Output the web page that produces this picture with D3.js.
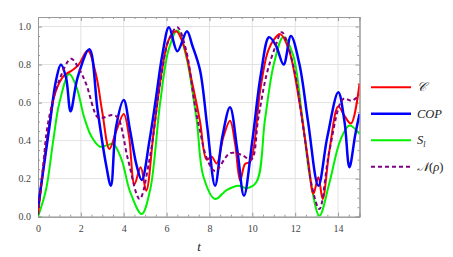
<!DOCTYPE html>
<html>
<head>
<meta charset="utf-8">
<script src="https://cdn.jsdelivr.net/npm/d3@7"></script>
<style>
  html, body { margin: 0; padding: 0; background: #fff; }
  svg { display: block; }
</style>
</head>
<body>
<div id="chart"></div>
<script>
// values, as [t, value] knots
var seriesC = [
  [0, 0.014], [0.25, 0.25], [0.56, 0.51], [0.8, 0.65], [1.2, 0.74], [1.6, 0.77], [1.9, 0.8],
  [2.32, 0.874], [2.7, 0.75], [3.0, 0.55], [3.33, 0.356], [3.65, 0.45], [4.0, 0.54],
  [4.25, 0.42], [4.5, 0.17], [4.79, 0.26], [5.05, 0.137], [5.4, 0.45], [5.8, 0.78],
  [6.1, 0.93], [6.45, 0.975], [6.8, 0.9], [7.2, 0.7], [7.56, 0.5], [7.87, 0.3], [8.1, 0.315],
  [8.34, 0.28], [8.65, 0.42], [8.96, 0.505], [9.2, 0.38], [9.43, 0.19], [9.66, 0.277],
  [9.9, 0.29], [10.36, 0.66], [10.7, 0.86], [11.0, 0.93], [11.3, 0.96], [11.7, 0.88],
  [12.2, 0.6], [12.6, 0.3], [12.85, 0.12], [13.08, 0.207], [13.28, 0.093], [13.6, 0.35],
  [14.01, 0.58], [14.3, 0.53], [14.6, 0.49], [15, 0.7]
];
var seriesCOP = [
  [0, 0.05], [0.53, 0.47], [0.84, 0.716], [1.07, 0.8], [1.31, 0.73], [1.52, 0.554],
  [1.85, 0.733], [2.4, 0.88], [2.78, 0.56], [3.17, 0.277], [3.4, 0.163], [3.64, 0.47],
  [4.0, 0.614], [4.3, 0.45], [4.6, 0.27], [4.84, 0.193], [5.2, 0.4], [5.5, 0.62],
  [5.8, 0.85], [6.11, 0.996], [6.5, 0.87], [6.95, 0.975], [7.2, 0.9], [7.56, 0.77],
  [7.9, 0.47], [8.26, 0.163], [8.6, 0.42], [8.96, 0.575], [9.3, 0.35], [9.61, 0.11],
  [10.0, 0.4], [10.4, 0.75], [10.78, 0.944], [11.1, 0.9], [11.46, 0.8], [11.8, 0.95],
  [12.2, 0.8], [12.6, 0.5], [13.08, 0.163], [13.5, 0.42], [14.01, 0.654], [14.3, 0.5],
  [14.53, 0.26], [14.8, 0.43], [15, 0.54]
];
var seriesSl = [
  [0, 0], [0.37, 0.14], [0.71, 0.4], [1.0, 0.6], [1.46, 0.75], [1.8, 0.68], [2.16, 0.52],
  [2.5, 0.42], [2.89, 0.368], [3.2, 0.375], [3.51, 0.383], [3.9, 0.3], [4.3, 0.13],
  [4.84, 0.014], [5.23, 0.14], [5.7, 0.6], [6.1, 0.88], [6.5, 0.979], [6.9, 0.85],
  [7.4, 0.51], [7.72, 0.21], [8.26, 0.093], [8.8, 0.14], [9.35, 0.163], [9.74, 0.15],
  [10.2, 0.184], [10.59, 0.51], [11.0, 0.8], [11.45, 0.945], [11.9, 0.85], [12.3, 0.55],
  [12.7, 0.2], [13.13, 0.005], [13.6, 0.18], [14.1, 0.4], [14.53, 0.48], [15, 0.435]
];
var seriesN = [
  [0, 0.01], [0.25, 0.28], [0.48, 0.5], [1.0, 0.72], [1.54, 0.83], [1.9, 0.78], [2.24, 0.7],
  [2.78, 0.523], [3.0, 0.52], [3.48, 0.535], [3.73, 0.52], [4.2, 0.3], [4.74, 0.093],
  [5.2, 0.3], [5.7, 0.7], [6.1, 0.93], [6.5, 0.996], [6.9, 0.88], [7.3, 0.6], [7.56, 0.45],
  [7.9, 0.3], [8.26, 0.24], [8.96, 0.334], [9.5, 0.325], [9.95, 0.3], [10.28, 0.52],
  [10.67, 0.75], [11.06, 0.89], [11.37, 0.97], [11.9, 0.8], [12.4, 0.45], [12.8, 0.15],
  [13.13, 0.04], [13.6, 0.35], [14.25, 0.62], [14.64, 0.61], [15, 0.64]
];

var xTicks = [0, 2, 4, 6, 8, 10, 12, 14];
var yTicks = [0, 0.2, 0.4, 0.6, 0.8, 1.0];
var legendNames = ["C", "COP", "S", "N"];

var serif = "'Liberation Serif', 'DejaVu Serif', serif";
var width = 453, height = 257;
var plot = {left: 38, right: 359.5, top: 17, bottom: 216.7};

var x = d3.scaleLinear().domain([0, 15]).range([plot.left, plot.right]);
var y = d3.scaleLinear().domain([0, 1.05]).range([plot.bottom, plot.top]);

var svg = d3.select("#chart").append("svg")
  .attr("width", width)
  .attr("height", height)
  .style("font-family", serif);

// grid lines
svg.append("g").selectAll("line")
  .data(xTicks.slice(1))
  .enter().append("line")
  .attr("x1", d => x(d)).attr("x2", d => x(d))
  .attr("y1", plot.top).attr("y2", plot.bottom)
  .attr("stroke", "#e2e2e2").attr("stroke-width", 1);
svg.append("g").selectAll("line")
  .data(yTicks.slice(1))
  .enter().append("line")
  .attr("x1", plot.left).attr("x2", plot.right)
  .attr("y1", d => y(d)).attr("y2", d => y(d))
  .attr("stroke", "#e2e2e2").attr("stroke-width", 1);

// axes: ticks inward on all four sides
var xMinor = d3.range(0, 15.01, 0.5).filter(d => d % 2 !== 0);
var yMinor = d3.range(0, 1.051, 0.05).filter(d => Math.abs(d * 5 - Math.round(d * 5)) > 1e-6);

function styleAxis(g) {
  g.attr("font-family", serif);
  g.select(".domain").attr("stroke", "#999");
  g.selectAll(".tick line").attr("stroke", "#999");
  g.selectAll("text").attr("fill", "#444").style("font-size", "10px");
}

svg.append("g").attr("transform", "translate(0," + plot.bottom + ")")
  .call(d3.axisBottom(x).tickValues(xTicks).tickSize(-4).tickPadding(8).tickFormat(d3.format("d")))
  .call(styleAxis);
svg.append("g").attr("transform", "translate(0," + plot.bottom + ")")
  .call(d3.axisBottom(x).tickValues(xMinor).tickSize(-2).tickFormat(""))
  .call(styleAxis);
svg.append("g").attr("transform", "translate(0," + plot.top + ")")
  .call(d3.axisTop(x).tickValues(xTicks).tickSize(-4).tickFormat(""))
  .call(styleAxis);
svg.append("g").attr("transform", "translate(0," + plot.top + ")")
  .call(d3.axisTop(x).tickValues(xMinor).tickSize(-2).tickFormat(""))
  .call(styleAxis);
svg.append("g").attr("transform", "translate(" + plot.left + ",0)")
  .call(d3.axisLeft(y).tickValues(yTicks).tickSize(-4).tickPadding(7).tickFormat(d3.format(".1f")))
  .call(styleAxis);
svg.append("g").attr("transform", "translate(" + plot.left + ",0)")
  .call(d3.axisLeft(y).tickValues(yMinor).tickSize(-2).tickFormat(""))
  .call(styleAxis);
svg.append("g").attr("transform", "translate(" + plot.right + ",0)")
  .call(d3.axisRight(y).tickValues(yTicks).tickSize(-4).tickFormat(""))
  .call(styleAxis);
svg.append("g").attr("transform", "translate(" + plot.right + ",0)")
  .call(d3.axisRight(y).tickValues(yMinor).tickSize(-2).tickFormat(""))
  .call(styleAxis);

// curves
var line = d3.line()
  .x(d => x(d[0]))
  .y(d => y(d[1]))
  .curve(d3.curveCatmullRom.alpha(0.5));

svg.append("clipPath").attr("id", "clip")
  .append("rect")
  .attr("x", plot.left).attr("y", plot.top)
  .attr("width", plot.right - plot.left).attr("height", plot.bottom - plot.top);

var curves = svg.append("g").attr("clip-path", "url(#clip)");
var lines = [
  {data: seriesSl, color: "#00f000", w: 2, dash: null},
  {data: seriesC, color: "#ff0000", w: 2, dash: null},
  {data: seriesCOP, color: "#0000ff", w: 2.5, dash: null},
  {data: seriesN, color: "#800080", w: 2, dash: "4,3"}
];
lines.forEach(function(s) {
  curves.append("path")
    .attr("d", line(s.data))
    .attr("fill", "none")
    .attr("stroke", s.color)
    .attr("stroke-width", s.w)
    .attr("stroke-dasharray", s.dash);
});

// x axis title
svg.append("text")
  .attr("x", 199).attr("y", 251)
  .attr("text-anchor", "middle")
  .style("font-style", "italic").style("font-size", "13px")
  .attr("fill", "#222")
  .text("t");

// legend
var legend = [
  {color: "#ff0000", w: 2, dash: null},
  {color: "#0000ff", w: 2.5, dash: null},
  {color: "#00f000", w: 2, dash: null},
  {color: "#800080", w: 2, dash: "4,3"}
];
var legendY = d3.scalePoint().domain(legendNames).range([87.3, 166.7]);
legend.forEach(function(l, i) {
  var ly = legendY(legendNames[i]);
  svg.append("line")
    .attr("x1", 371).attr("x2", 411)
    .attr("y1", ly).attr("y2", ly)
    .attr("stroke", l.color).attr("stroke-width", l.w)
    .attr("stroke-dasharray", l.dash);
  var t = svg.append("text")
    .attr("x", 417).attr("y", ly + 4)
    .attr("fill", "#222")
    .style("font-size", "12.5px").style("font-style", "italic");
  if (i === 0) t.text("\uD835\uDC9E");
  else if (i === 1) t.text("COP");
  else if (i === 2) {
    t.text("S");
    t.append("tspan").attr("dy", 3).style("font-size", "8px").text("l");
  } else {
    t.text("\uD835\uDCA9");
    t.append("tspan").style("font-style", "normal").text("(");
    t.append("tspan").text("\u03C1");
    t.append("tspan").style("font-style", "normal").text(")");
  }
});
</script>
</body>
</html>
